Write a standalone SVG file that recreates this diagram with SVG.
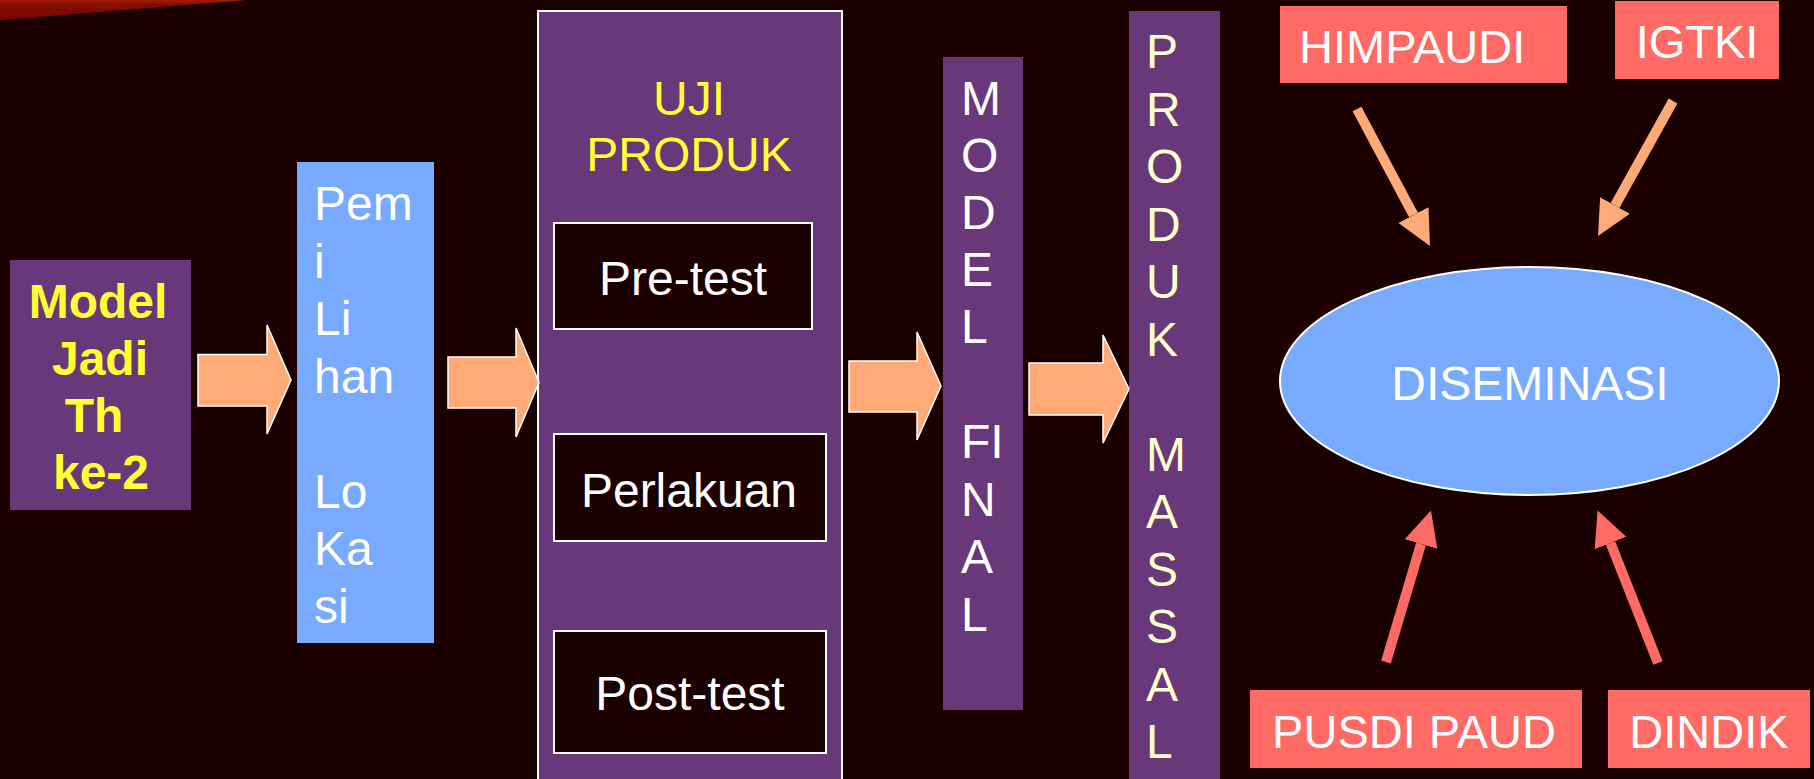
<svg xmlns="http://www.w3.org/2000/svg" width="1814" height="779" viewBox="0 0 1814 779">
<defs>
<linearGradient id="ban" gradientUnits="userSpaceOnUse" x1="0" y1="0" x2="0" y2="20">
<stop offset="0" stop-color="#A81A02"/><stop offset="0.25" stop-color="#820C00"/><stop offset="1" stop-color="#780800"/>
</linearGradient>
<marker id="hSalmon" markerUnits="userSpaceOnUse" markerWidth="36" markerHeight="36" viewBox="0 0 36 36" refX="0" refY="18" orient="auto">
<path d="M0,1 L35,18 L0,35 z" fill="#FFAA77"/>
</marker>
<marker id="hRed" markerUnits="userSpaceOnUse" markerWidth="36" markerHeight="36" viewBox="0 0 36 36" refX="0" refY="18" orient="auto">
<path d="M0,1 L35,18 L0,35 z" fill="#FF6B64"/>
</marker>
<style>
.t{font-family:"Liberation Sans",Arial,sans-serif;font-size:48px;fill:#fff}
.b{font-weight:bold;fill:#FFFF33}
.y{fill:#FFFF33}
.c{fill:#FFFFCC}
.m{text-anchor:middle}
.pur{fill:#69387B}
.blu{fill:#78AAFF}
.red{fill:#FF6B64}
.inner{fill:#1B0000;stroke:#fff;stroke-width:2}
.blk{fill:#FFAA77;stroke:#fff;stroke-width:1.5;stroke-linejoin:miter}
.sa{stroke:#FFAA77;stroke-width:10;fill:none}
.ra{stroke:#FF6B64;stroke-width:10;fill:none}
.bx{font-size:47px}
</style>
</defs>
<rect width="1814" height="779" fill="#1B0000"/>
<polygon points="0,0 248,0 0,20" fill="url(#ban)"/>

<g id="model-jadi">
<rect x="10" y="260" width="181" height="250" class="pur"/>
<text class="t b m" x="98" y="318">Model</text>
<text class="t b m" x="100" y="375">Jadi</text>
<text class="t b m" x="94" y="432">Th</text>
<text class="t b m" x="101" y="489">ke-2</text>
</g>

<g id="pemilihan-lokasi">
<rect x="297" y="162" width="137" height="481" class="blu"/>
<text class="t" x="314" y="220">Pem</text>
<text class="t" x="314" y="277.5">i</text>
<text class="t" x="314" y="335">Li</text>
<text class="t" x="314" y="392.5">han</text>
<text class="t" x="314" y="507.5">Lo</text>
<text class="t" x="314" y="565">Ka</text>
<text class="t" x="314" y="622.5">si</text>
</g>

<g id="uji-produk">
<rect x="538" y="11" width="304" height="790" class="pur" stroke="#fff" stroke-width="2"/>
<text class="t y m" x="689" y="115">UJI</text>
<text class="t y m" x="689" y="171">PRODUK</text>
</g>

<g id="pre-test">
<rect x="554" y="223" width="258" height="106" class="inner"/>
<text class="t m" x="683" y="295">Pre-test</text>
</g>

<g id="perlakuan">
<rect x="554" y="434" width="272" height="107" class="inner"/>
<text class="t m" x="689" y="507">Perlakuan</text>
</g>

<g id="post-test">
<rect x="554" y="631" width="272" height="122" class="inner"/>
<text class="t m" x="690" y="710">Post-test</text>
</g>

<g id="model-final">
<rect x="943" y="57" width="80" height="653" class="pur"/>
<text class="t" x="961" y="115">M</text>
<text class="t" x="961" y="172">O</text>
<text class="t" x="961" y="229">D</text>
<text class="t" x="961" y="286">E</text>
<text class="t" x="961" y="343">L</text>
<text class="t" x="961" y="458">FI</text>
<text class="t" x="961" y="515.5">N</text>
<text class="t" x="961" y="573">A</text>
<text class="t" x="961" y="630.5">L</text>
</g>

<g id="produk-massal">
<rect x="1129" y="11" width="91" height="790" class="pur"/>
<text class="t c" x="1146" y="68">P</text>
<text class="t c" x="1146" y="125.5">R</text>
<text class="t c" x="1146" y="183">O</text>
<text class="t c" x="1146" y="240.5">D</text>
<text class="t c" x="1146" y="298">U</text>
<text class="t c" x="1146" y="355.5">K</text>
<text class="t c" x="1146" y="470.5">M</text>
<text class="t c" x="1146" y="528">A</text>
<text class="t c" x="1146" y="585.5">S</text>
<text class="t c" x="1146" y="643">S</text>
<text class="t c" x="1146" y="700.5">A</text>
<text class="t c" x="1146" y="758">L</text>
</g>

<g id="diseminasi">
<ellipse cx="1529.5" cy="381" rx="249.5" ry="114" class="blu" stroke="#fff" stroke-width="2"/>
<text class="t m" x="1530" y="400">DISEMINASI</text>
</g>

<g id="himpaudi">
<rect x="1280" y="6" width="287" height="77" class="red"/>
<text class="t bx" x="1299" y="63">HIMPAUDI</text>
</g>

<g id="igtki">
<rect x="1615" y="1" width="164" height="78" class="red"/>
<text class="t bx m" x="1697" y="58">IGTKI</text>
</g>

<g id="pusdi-paud">
<rect x="1250" y="690" width="332" height="78" class="red"/>
<text class="t bx m" x="1414" y="748">PUSDI PAUD</text>
</g>

<g id="dindik">
<rect x="1608" y="690" width="202" height="78" class="red"/>
<text class="t bx m" x="1709" y="748">DINDIK</text>
</g>

<g id="connectors">
<polygon class="blk" points="198,354.5 267,354.5 267,325 291,380 267,434 267,406 198,406"/>
<polygon class="blk" points="448,357 516,357 516,328 539,382.5 516,437 516,408 448,408"/>
<polygon class="blk" points="849,361 917,361 917,332 941,386 917,440 917,412 849,412"/>
<polygon class="blk" points="1029,363 1103,363 1103,335 1129,389 1103,443 1103,415 1029,415"/>
<line class="sa" x1="1357" y1="109" x2="1413.5" y2="215" marker-end="url(#hSalmon)"/>
<line class="sa" x1="1673" y1="101" x2="1615" y2="205.5" marker-end="url(#hSalmon)"/>
<line class="ra" x1="1386" y1="662" x2="1421" y2="544" marker-end="url(#hRed)"/>
<line class="ra" x1="1658" y1="663" x2="1610.5" y2="543" marker-end="url(#hRed)"/>
</g>
</svg>
